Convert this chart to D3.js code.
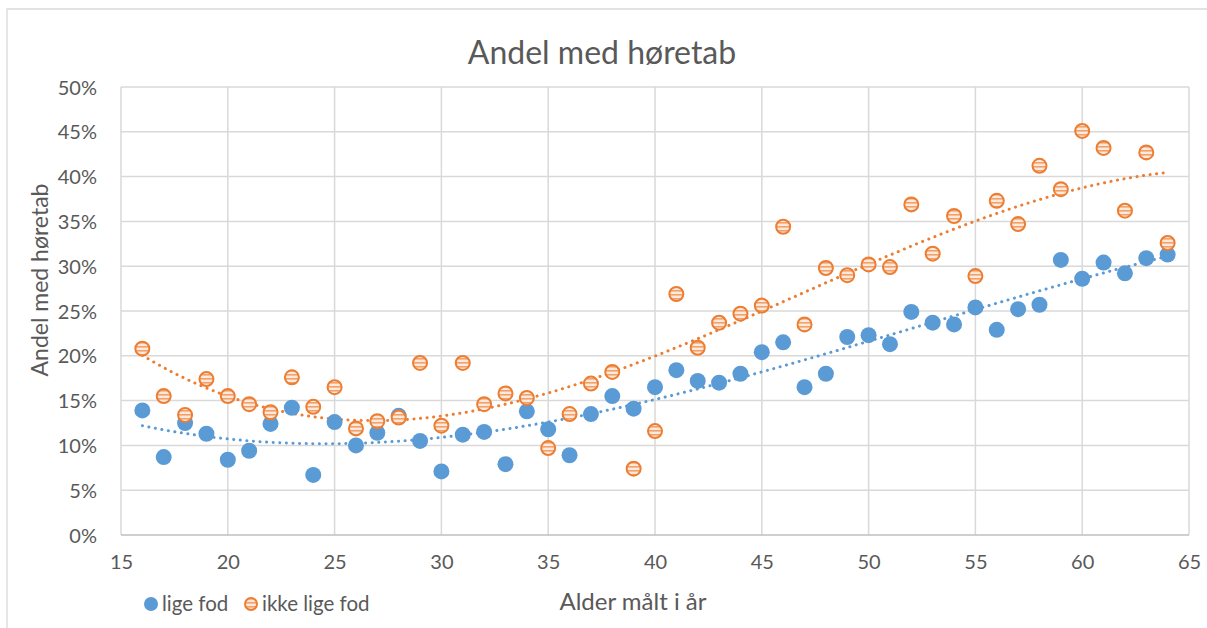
<!DOCTYPE html>
<html>
<head>
<meta charset="utf-8">
<script src="https://cdn.jsdelivr.net/npm/d3@7"></script>
<style>
  html, body { margin: 0; padding: 0; background: #fff; }
  svg { display: block; font-family: Lato, "Open Sans", sans-serif; }
</style>
</head>
<body>
<div id="chart"></div>
<script>
// data (age, share in %)
var ages = d3.range(16, 65);
var ligeFod = [13.9, 8.7, 12.5, 11.3, 8.4, 9.4, 12.4, 14.2, 6.7, 12.6,
  10.0, 11.4, 13.3, 10.5, 7.1, 11.2, 11.5, 7.9, 13.8, 11.8,
  8.9, 13.5, 15.5, 14.1, 16.5, 18.4, 17.2, 17.0, 18.0, 20.4,
  21.5, 16.5, 18.0, 22.1, 22.3, 21.3, 24.9, 23.7, 23.5, 25.4,
  22.9, 25.2, 25.7, 30.7, 28.6, 30.4, 29.2, 30.9, 31.3];
var ikkeLigeFod = [20.8, 15.5, 13.4, 17.4, 15.5, 14.6, 13.7, 17.6, 14.3, 16.5,
  11.9, 12.7, 13.1, 19.2, 12.2, 19.2, 14.6, 15.8, 15.3, 9.7,
  13.5, 16.9, 18.2, 7.4, 11.6, 26.9, 20.9, 23.7, 24.7, 25.6,
  34.4, 23.5, 29.8, 29.0, 30.2, 29.9, 36.9, 31.4, 35.6, 28.9,
  37.3, 34.7, 41.2, 38.6, 45.1, 43.2, 36.2, 42.7, 32.6];
var xTicks = [15, 20, 25, 30, 35, 40, 45, 50, 55, 60, 65];
var yTicks = [0, 5, 10, 15, 20, 25, 30, 35, 40, 45, 50];

var W = 1207, H = 628;
var plot = {left: 121, top: 87, right: 1189, bottom: 535};
var blue = '#5B9BD5', orange = '#ED7D31', grey = '#595959';

var svg = d3.select('#chart').append('svg')
  .attr('width', W).attr('height', H);

// stripe fill for the orange markers
var pat = svg.append('defs').append('pattern')
  .attr('id', 'stripes')
  .attr('patternUnits', 'userSpaceOnUse')
  .attr('width', 8).attr('height', 4);
pat.append('rect').attr('width', 8).attr('height', 4).attr('fill', '#fce9dc');
pat.append('rect').attr('y', 2).attr('width', 8).attr('height', 1.6).attr('fill', '#f1a16c');

// chart frame
svg.append('path')
  .attr('d', 'M7,' + (H + 2) + 'V9H' + (W + 2))
  .attr('fill', 'none').attr('stroke', '#d9d9d9').attr('stroke-width', 1.3);

var x = d3.scaleLinear().domain([15, 65]).range([plot.left, plot.right]);
var y = d3.scaleLinear().domain([0, 50]).range([plot.bottom, plot.top]);

// grid
svg.append('g').selectAll('line').data(yTicks.slice(1)).join('line')
  .attr('x1', plot.left).attr('x2', plot.right)
  .attr('y1', function (d) { return y(d); }).attr('y2', function (d) { return y(d); })
  .attr('stroke', '#d9d9d9').attr('stroke-width', 1.5);
svg.append('g').selectAll('line').data(xTicks).join('line')
  .attr('y1', plot.top).attr('y2', plot.bottom)
  .attr('x1', function (d) { return x(d); }).attr('x2', function (d) { return x(d); })
  .attr('stroke', '#d9d9d9').attr('stroke-width', 1.5);
svg.append('line')
  .attr('x1', plot.left).attr('x2', plot.right)
  .attr('y1', plot.bottom).attr('y2', plot.bottom)
  .attr('stroke', '#bfbfbf').attr('stroke-width', 1.5);

// axes (labels only, lines drawn above)
var yAxis = svg.append('g')
  .attr('transform', 'translate(' + (plot.left - 21) + ',0)')
  .call(d3.axisLeft(y).tickValues(yTicks).tickSize(0).tickFormat(function (d) { return d + '%'; }));
var xAxis = svg.append('g')
  .attr('transform', 'translate(0,' + (plot.bottom + 17) + ')')
  .call(d3.axisBottom(x).tickValues(xTicks).tickSize(0));
[yAxis, xAxis].forEach(function (a) {
  a.select('.domain').remove();
  a.selectAll('text').attr('fill', grey).style('font-size', '20px').style('font-family', 'Lato');
});
yAxis.selectAll('text').attr('dx', 0).attr('dy', '0.35em');

// least squares polynomial, the way Excel draws a polynomial trendline
function polyFit (xs, ys, order) {
  var n = order + 1;
  var m = [];
  for (var i = 0; i < n; i++) {
    m.push([]);
    for (var j = 0; j <= n; j++) m[i].push(0);
  }
  xs.forEach(function (xv, k) {
    var t = (xv - 40) / 10;
    for (var i = 0; i < n; i++) {
      for (var j = 0; j < n; j++) m[i][j] += Math.pow(t, i + j);
      m[i][n] += ys[k] * Math.pow(t, i);
    }
  });
  for (var c = 0; c < n; c++) {
    var p = c;
    for (var r = c + 1; r < n; r++) if (Math.abs(m[r][c]) > Math.abs(m[p][c])) p = r;
    var tmp = m[c]; m[c] = m[p]; m[p] = tmp;
    for (var r2 = 0; r2 < n; r2++) {
      if (r2 === c) continue;
      var f = m[r2][c] / m[c][c];
      for (var j2 = c; j2 <= n; j2++) m[r2][j2] -= f * m[c][j2];
    }
  }
  var coef = m.map(function (row, i) { return row[n] / row[i]; });
  return function (xv) {
    var t = (xv - 40) / 10, s = 0;
    coef.forEach(function (cv, i) { s += cv * Math.pow(t, i); });
    return s;
  };
}

var series = [
  {name: 'lige fod', values: ligeFod, color: blue},
  {name: 'ikke lige fod', values: ikkeLigeFod, color: orange}
];

var line = d3.line()
  .x(function (d) { return x(d[0]); })
  .y(function (d) { return y(d[1]); });

series.forEach(function (s) {
  var fit = polyFit(ages, s.values, 3);
  var pts = d3.range(16, 64.01, 0.25).map(function (a) { return [a, fit(a)]; });
  svg.append('path')
    .attr('d', line(pts))
    .attr('fill', 'none')
    .attr('stroke', s.color)
    .attr('stroke-width', 3)
    .attr('stroke-linecap', 'round')
    .attr('stroke-dasharray', '0.1 6.5');
});

function drawMarker (sel, s) {
  if (s.color === blue) {
    sel.attr('r', 8).attr('fill', blue);
  } else {
    sel.attr('r', 7).attr('fill', 'url(#stripes)').attr('stroke', orange).attr('stroke-width', 2);
  }
}

series.forEach(function (s) {
  svg.append('g').selectAll('circle').data(s.values).join('circle')
    .attr('cx', function (d, i) { return x(ages[i]); })
    .attr('cy', function (d) { return y(d); })
    .call(drawMarker, s);
});

// titles
svg.append('text')
  .attr('x', 602).attr('y', 64)
  .attr('text-anchor', 'middle')
  .attr('fill', grey).style('font-size', '32px')
  .text('Andel med høretab');
svg.append('text')
  .attr('transform', 'translate(48,280) rotate(-90)')
  .attr('text-anchor', 'middle')
  .attr('fill', grey).style('font-size', '23px')
  .text('Andel med høretab');
svg.append('text')
  .attr('x', 633).attr('y', 610)
  .attr('text-anchor', 'middle')
  .attr('fill', grey).style('font-size', '24px')
  .text('Alder målt i år');

// legend
var leg = svg.append('g');
var legX = [151, 251];
series.forEach(function (s, i) {
  var c = leg.append('circle').attr('cx', legX[i]).attr('cy', 604).call(drawMarker, s);
  c.attr('r', s.color === blue ? 7 : 6);
  leg.append('text')
    .attr('x', legX[i] + 11).attr('y', 611)
    .attr('fill', grey).style('font-size', '20.5px')
    .text(s.name);
});
</script>
</body>
</html>
